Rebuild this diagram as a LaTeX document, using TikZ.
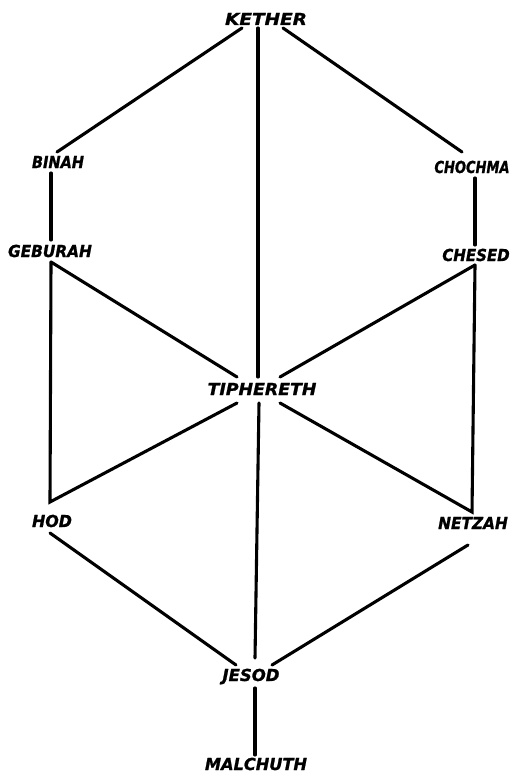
\documentclass[tikz,border=0pt]{standalone}
\usepackage{fontspec}
\usepackage{graphicx}
\setmainfont{DejaVu Sans}
\newfontfamily\sephfont[FakeBold=1.2]{DejaVu Sans Bold Oblique}
\usetikzlibrary{calc}
\newcommand{\sephlbl}[2]{\scalebox{#1}[1]{#2}}
\tikzset{
  lbl/.style={font=\fontsize{16.5}{16.5}\sephfont, inner sep=0pt, text height=12pt, text depth=0pt, anchor=center},
  path/.style={line width=3.1pt, line cap=round, black}
}
\begin{document}
\begin{tikzpicture}[x=1pt, y=-1pt]
\useasboundingbox (0,0) rectangle (517,778);
\fill[white] (0,0) rectangle (517,778);
% labels
\node[lbl] (kether)   at (266,19)  {\sephlbl{1.12}{KETHER}};
\node[lbl] (binah)    at (58,162)  {\sephlbl{0.88}{BINAH}};
\node[lbl] (chochma)  at (472,167) {\sephlbl{0.79}{CHOCHMA}};
\node[lbl] (geburah)  at (50,251)  {\sephlbl{0.93}{GEBURAH}};
\node[lbl] (chesed)   at (476,255) {\sephlbl{0.91}{CHESED}};
\node[lbl] (tiph)     at (262,389) {\sephlbl{1.05}{TIPHERETH}};
\node[lbl] (hod)      at (52,521)  {\sephlbl{0.96}{HOD}};
\node[lbl] (netzah)   at (473,523) {\sephlbl{0.93}{NETZAH}};
\node[lbl] (jesod)    at (251,675) {\sephlbl{1.00}{JESOD}};
\node[lbl] (malchuth) at (256,764) {\sephlbl{0.98}{MALCHUTH}};
% connectors
\draw[path] ($(kether)+(-24,9)$) -- ($(binah)+(-1,-10)$);
\draw[path] ($(kether)+(17,9)$) -- ($(chochma)+(-10,-15)$);
\draw[path] ($(kether)+(-8,9)$) -- ($(tiph)+(-4,-12)$);
\draw[path] ($(binah)+(-7,11)$) -- ($(geburah)+(1,-11)$);
\draw[path] ($(chochma)+(3,11)$) -- ($(chesed)+(-1,-10)$);
\draw[path] ($(geburah)+(1,11)$) -- ($(tiph)+(-25,-12)$);
\draw[path] ($(geburah)+(1,11)$) -- ($(hod)+(-2,-19)$) -- ($(tiph)+(-25,14)$);
\draw[path] ($(chesed)+(-1,10)$) -- ($(tiph)+(18,-12)$);
\draw[path] ($(chesed)+(-1,10)$) -- ($(netzah)+(-1,-11)$) -- ($(tiph)+(18,14)$);
\draw[path] ($(tiph)+(-3,14)$) -- ($(jesod)+(4,-17)$);
\draw[path] ($(hod)+(-2,12)$) -- ($(jesod)+(-15,-10)$);
\draw[path] ($(netzah)+(-5,22)$) -- ($(jesod)+(21,-10)$);
\draw[path] ($(jesod)+(4,13)$) -- ($(malchuth)+(-1,-9)$);
\end{tikzpicture}
\end{document}
